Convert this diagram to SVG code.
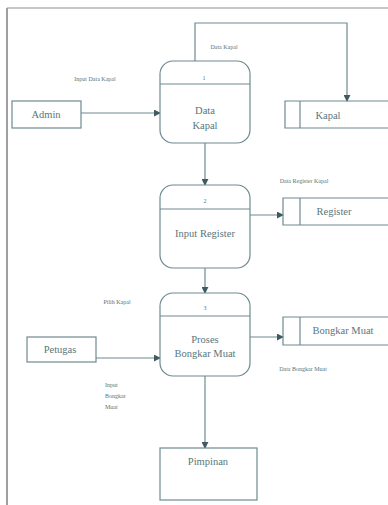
<svg xmlns="http://www.w3.org/2000/svg" width="388" height="505" viewBox="0 0 388 505">
<style>
.ln{fill:none;stroke:#6f8a90;stroke-width:1.2}
.bx{fill:#fff;stroke:#6f8a90;stroke-width:1.2}
.t{font-family:"Liberation Serif",serif;fill:#58767c;text-anchor:middle}
.m{font-size:10.5px}
.s{font-size:6px}
.l{text-anchor:start}
</style>
<defs>
<marker id="ah" viewBox="0 0 8 8" refX="7" refY="4" markerWidth="7" markerHeight="7" orient="auto" markerUnits="userSpaceOnUse">
<path d="M0,0 L8,4 L0,8 Z" fill="#3f5a60"/>
</marker>
</defs>
<rect width="388" height="505" fill="#fff"/>
<line x1="7" y1="8" x2="388" y2="8" stroke="#b5b5b5" stroke-width="1.5"/>
<line x1="7" y1="8" x2="7" y2="505" stroke="#a0a0a0" stroke-width="2"/>

<g id="connectors">
<line class="ln" x1="81" y1="113" x2="160" y2="113" marker-end="url(#ah)"/>
<polyline class="ln" points="195,61 195,23 347,23 347,101" marker-end="url(#ah)"/>
<line class="ln" x1="205" y1="143" x2="205" y2="185" marker-end="url(#ah)"/>
<line class="ln" x1="250" y1="215" x2="283" y2="215" marker-end="url(#ah)"/>
<line class="ln" x1="205" y1="268" x2="205" y2="293" marker-end="url(#ah)"/>
<line class="ln" x1="96" y1="358" x2="160" y2="358" marker-end="url(#ah)"/>
<line class="ln" x1="250" y1="337" x2="283" y2="337" marker-end="url(#ah)"/>
<line class="ln" x1="205" y1="376" x2="205" y2="448" marker-end="url(#ah)"/>
<text class="t s" x="95" y="81">Input Data Kapal</text>
<text class="t s" x="224" y="49">Data Kapal</text>
<text class="t s" x="304" y="183">Data Register Kapal</text>
<text class="t s" x="117" y="304">Pilih Kapal</text>
<text class="t s" x="303" y="371">Data Bongkar Muat</text>
<text class="t s l" x="105" y="387">Input</text>
<text class="t s l" x="105" y="398">Bongkar</text>
<text class="t s l" x="105" y="409">Muat</text>
</g>

<g id="admin">
<rect class="bx" x="12" y="101" width="69" height="27"/>
<text class="t m" x="46" y="118">Admin</text>
</g>

<g id="p1">
<rect class="bx" x="160" y="61" width="90" height="82" rx="13"/>
<line class="ln" x1="160" y1="84" x2="250" y2="84"/>
<text class="t s" x="204" y="80">1</text>
<text class="t m" x="205" y="114">Data</text>
<text class="t m" x="205" y="129">Kapal</text>
</g>

<g id="kapal">
<polyline class="ln" points="388,101 285,101 285,128 388,128"/>
<line class="ln" x1="300" y1="101" x2="300" y2="128"/>
<text class="t m" x="328" y="119">Kapal</text>
</g>

<g id="p2">
<rect class="bx" x="160" y="185" width="90" height="83" rx="13"/>
<line class="ln" x1="160" y1="209" x2="250" y2="209"/>
<text class="t s" x="205" y="203">2</text>
<text class="t m" x="205" y="237">Input Register</text>
</g>

<g id="register">
<polyline class="ln" points="388,198 283,198 283,225 388,225"/>
<line class="ln" x1="300" y1="198" x2="300" y2="225"/>
<text class="t m" x="334" y="215">Register</text>
</g>

<g id="p3">
<rect class="bx" x="160" y="293" width="90" height="83" rx="13"/>
<line class="ln" x1="160" y1="316" x2="250" y2="316"/>
<text class="t s" x="205" y="310">3</text>
<text class="t m" x="205" y="343">Proses</text>
<text class="t m" x="205" y="357">Bongkar Muat</text>
</g>

<g id="petugas">
<rect class="bx" x="27" y="337" width="69" height="25"/>
<text class="t m" x="60" y="353">Petugas</text>
</g>

<g id="bongkar">
<polyline class="ln" points="388,317 283,317 283,345 388,345"/>
<line class="ln" x1="300" y1="317" x2="300" y2="345"/>
<text class="t m" x="343" y="334">Bongkar Muat</text>
</g>

<g id="pimpinan">
<rect class="bx" x="160" y="448" width="97" height="52"/>
<text class="t m" x="208" y="465">Pimpinan</text>
</g>
</svg>
